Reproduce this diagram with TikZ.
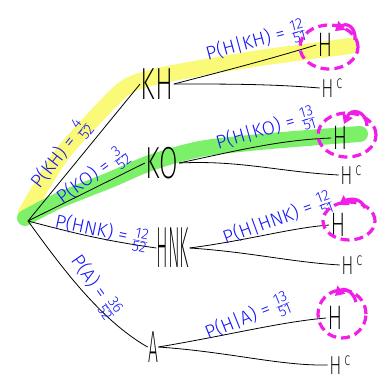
\documentclass[tikz,border=0pt]{standalone}
\usepackage{fontspec}
\setmainfont{Fira Sans Light}
\newfontfamily\thinfont{Fira Sans ExtraLight}
\usetikzlibrary{shapes.geometric,arrows.meta}
\definecolor{hly}{RGB}{250,250,120}
\definecolor{hlg}{RGB}{125,240,105}
\definecolor{mag}{RGB}{240,30,230}
\definecolor{pen}{RGB}{20,20,250}
\newcommand\fr[2]{\ensuremath{\frac{\mbox{\fontsize{15}{15}\selectfont #1}}{\mbox{\fontsize{15}{15}\selectfont #2}}}}
\begin{document}
\begin{tikzpicture}[x=1pt,y=-1pt,
  big/.style={font=\thinfont\fontsize{45}{45}\selectfont, inner sep=1pt, xscale=0.6},
  leaf/.style={font=\thinfont\fontsize{34}{34}\selectfont, inner sep=2pt, xscale=0.65},
  leafc/.style={font=\thinfont\fontsize{26}{26}\selectfont, inner sep=2pt, xscale=0.7},
  prob/.style={font=\fontsize{19}{19}\selectfont, text=pen, inner sep=0pt},
  branch/.style={draw=black, line width=0.8pt},
  hilite/.style={line width=16pt, line cap=round, line join=round},
  ring/.style={ellipse, draw=mag, line width=3.2pt, dash pattern=on 9pt off 5pt, inner sep=0pt},
  hook/.style={draw=mag, line width=3.2pt, -{Triangle[length=9pt,width=11pt]}},
]
\useasboundingbox (0,0) rectangle (383,390);
\fill[white] (0,0) rectangle (383,390);

% highlights
\draw[hly, hilite] plot[smooth] coordinates {(26,213) (60,157) (100,112) (125,88) (150,78) (200,68) (260,58) (320,50) (350,46)};
\draw[hlg, hilite] plot[smooth] coordinates {(25,218) (60,200) (110,180) (150,163) (200,149) (260,142) (320,137) (360,134)};

% nodes
\coordinate (root) at (28,221);
\node[big] (kh) at (157,84) {KH};
\node[big] (ko) at (162,163) {KO};
\node[big, font=\thinfont\fontsize{58}{58}\selectfont, xscale=0.5] (hnk) at (173,248) {HNK};
\node[big, xscale=0.65] (a) at (153,347) {A};

\node[leaf] (h1) at (325,45) {H};
\node[leafc] (hc1) at (332,88) {H\,\textsuperscript{c}};
\node[leaf] (h2) at (340,138) {H};
\node[leafc] (hc2) at (351,175) {H\,\textsuperscript{c}};
\node[leaf] (h3) at (338,225) {H};
\node[leafc] (hc3) at (352,265) {H\,\textsuperscript{c}};
\node[leaf] (h4) at (335,318) {H};
\node[leafc] (hc4) at (340,365) {H\,\textsuperscript{c}};

% first level branches
\draw[branch] (root) -- (kh.west);
\draw[branch] (root) -- (ko.west);
\draw[branch] (root) .. controls (70,232) and (100,240) .. (hnk.west);
\draw[branch] (root) .. controls (60,265) and (100,320) .. (a.west);

% second level branches
\draw[branch] (kh.east) .. controls (220,72) and (260,62) .. (h1.west);
\draw[branch] (kh.east) .. controls (230,84) and (270,84) .. (hc1.west);
\draw[branch] (ko.east) .. controls (240,150) and (280,140) .. (h2.west);
\draw[branch] (ko.east) .. controls (240,160) and (280,172) .. (hc2.west);
\draw[branch] (hnk.east) .. controls (250,240) and (290,228) .. (h3.west);
\draw[branch] (hnk.east) .. controls (250,252) and (290,262) .. (hc3.west);
\draw[branch] (a.east) .. controls (230,335) and (280,322) .. (h4.west);
\draw[branch] (a.east) .. controls (230,352) and (280,366) .. (hc4.west);

% probability labels
\node[prob, rotate=52] (lkh) at (61,154) {P(KH) = \fr{4}{52}};
\node[prob, rotate=36] (lko) at (93,176) {P(KO) = \fr{3}{52}};
\node[prob, rotate=-12] (lhnk) at (102,232) {P(HNK) = \fr{12}{52}};
\node[prob, rotate=-55] (la) at (95,287) {P(A) = \fr{36}{52}};
\node[prob, rotate=15] (lh1) at (256,42) {P(H|KH) = \fr{12}{51}};
\node[prob, rotate=16] (lh2) at (266,130) {P(H|KO) = \fr{13}{51}};
\node[prob, rotate=20] (lh3) at (278,220) {P(H|HNK) = \fr{12}{51}};
\node[prob, rotate=22] (lh4) at (248,318) {P(H|A) = \fr{13}{51}};

% magenta rings and hooks
\node[ring, minimum width=58pt, minimum height=44pt] (r1) at (329,47) {};
\node[ring, minimum width=58pt, minimum height=44pt] (r2) at (347,135) {};
\node[ring, minimum width=52pt, minimum height=38pt] (r3) at (349,221) {};
\node[ring, minimum width=48pt, minimum height=48pt] (r4) at (342,314) {};
\draw[hook] (355,40) .. controls (356,25) and (345,23) .. (335,31);
\draw[hook] (367,126) .. controls (366,110) and (351,108) .. (344,124);
\draw[hook] (365,208) .. controls (361,198) and (350,198) .. (339,205);
\draw[hook] (356,302) .. controls (353,290) and (343,288) .. (335,296);
\end{tikzpicture}
\end{document}
